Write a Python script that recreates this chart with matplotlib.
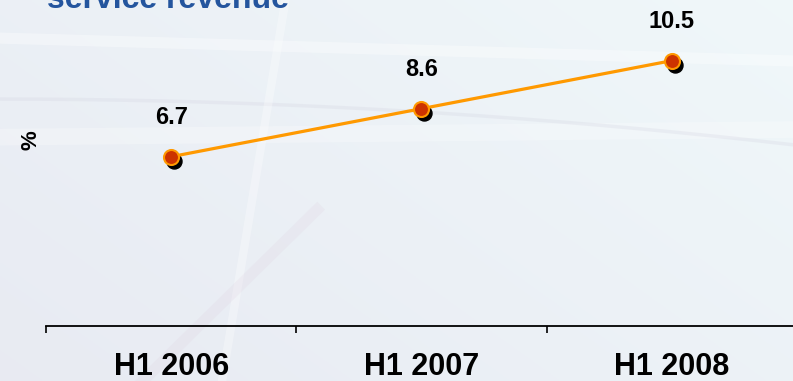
import matplotlib.pyplot as plt
import matplotlib.transforms as mtransforms
import numpy as np

# data
periods = ["H1 2006", "H1 2007", "H1 2008"]
share = [6.7, 8.6, 10.5]
value_labels = ["6.7", "8.6", "10.5"]

plt.rcParams['font.family'] = ['Liberation Sans', 'DejaVu Sans']

fig = plt.figure(figsize=(7.93, 3.81), dpi=100)

# soft presentation-style background
bg = fig.add_axes([0, 0, 1, 1], zorder=-10)
yy, xx = np.mgrid[0:1:200j, 0:1:400j]
c1 = np.array([0.91, 0.92, 0.95])
c2 = np.array([0.94, 0.97, 0.98])
t = np.clip(0.6 * xx + 0.4 * yy, 0, 1)[..., None]
img = c1 * (1 - t) + c2 * t
bg.imshow(img, extent=[0, 1, 0, 1], aspect='auto', origin='lower')
s = np.linspace(0, 1, 200)
bg.plot(s, 0.90 - 0.06 * s, color='white', lw=8, alpha=0.35)
bg.plot(s, 0.64 + 0.02 * s, color='white', lw=12, alpha=0.25)
bg.plot(s, 0.74 - 0.12 * s ** 2, color='#d0d0de', lw=2.5, alpha=0.25)
bg.plot(0.28 + 0.08 * s, s, color='white', lw=6, alpha=0.3)
bg.plot(0.18 + 0.22 * s, s * 0.45, color='#dccbdc', lw=8, alpha=0.18)
bg.set_xlim(0, 1)
bg.set_ylim(0, 1)
bg.axis('off')

ax = fig.add_axes([46 / 793, 55 / 381, 751 / 793, 326 / 381])
ax.patch.set_alpha(0)
x = np.arange(len(periods))

# shadow markers
shadow = mtransforms.offset_copy(ax.transData, fig=fig, x=3, y=-4, units='dots')
ax.plot(x, share, 'o', color='black', markersize=10.8, transform=shadow, zorder=2)

ax.plot(x, share, '-', color='#FF9900', lw=2.3, zorder=3)
ax.plot(x, share, 'o', markerfacecolor='#CC3300', markeredgecolor='#FF9900',
        markeredgewidth=1.5, markersize=10.8, zorder=4, linestyle='none')

for xi, v, lab in zip(x, share, value_labels):
    ax.annotate(lab, (xi, v), xytext=(0, 28), textcoords='offset points',
                ha='center', va='center', fontsize=17, fontweight='bold', color='black')

ax.set_xlim(-0.5, 2.5)
ax.set_ylim(0, 12.9)
for side in ['top', 'right', 'left']:
    ax.spines[side].set_visible(False)
ax.spines['bottom'].set_linewidth(1.3)
ax.set_yticks([])
ax.set_xticks([-0.5, 0.5, 1.5, 2.5])
ax.set_xticklabels([])
ax.tick_params(axis='x', which='major', direction='out', length=5, width=1.2)
ax.set_xticks(x, minor=True)
ax.set_xticklabels(periods, minor=True, fontsize=22, fontweight='bold')
ax.tick_params(axis='x', which='minor', length=0, pad=19)

fig.text(31 / 793, 1 - 140 / 381, '%', rotation=90, ha='center', va='center',
         fontsize=16, fontweight='bold')
fig.text(47 / 793, 1 - 8 / 381, 'service revenue', ha='left', va='baseline',
         fontsize=23, fontweight='bold', color='#24559E')

fig.savefig('out.png', dpi=100)
